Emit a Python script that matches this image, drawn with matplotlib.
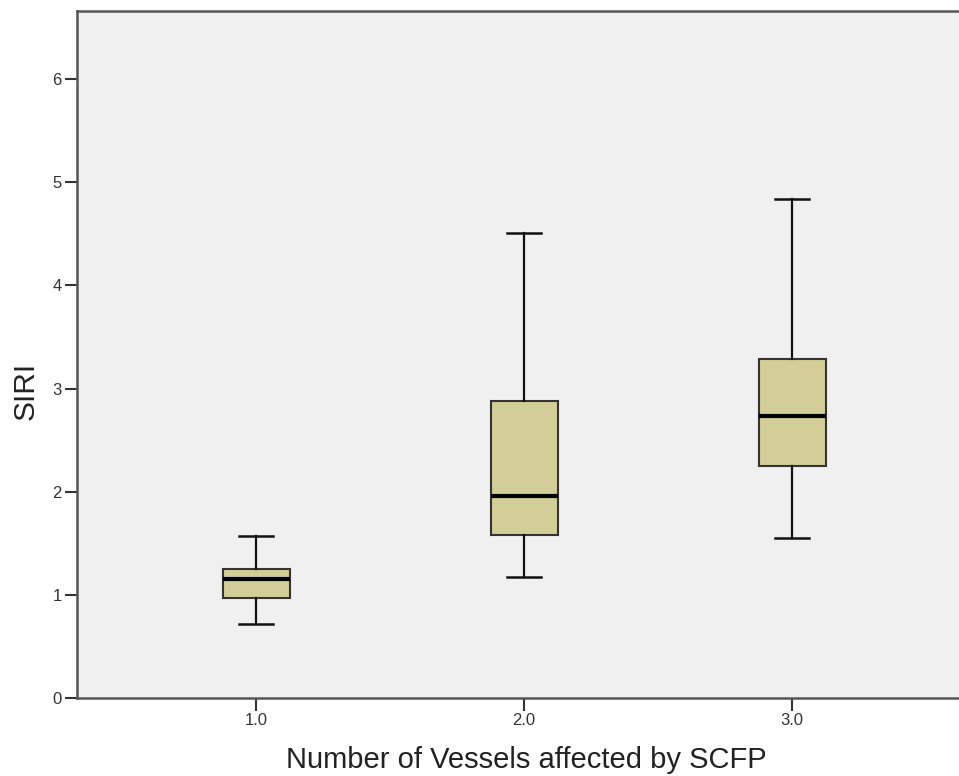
import matplotlib
matplotlib.use("Agg")
import matplotlib.pyplot as plt

plt.rcParams['font.family'] = ['Liberation Sans', 'DejaVu Sans']

categories = ["1.0", "2.0", "3.0"]
positions = [1.0, 2.0, 3.0]
whislo = [0.72, 1.17, 1.55]
q1 = [0.97, 1.58, 2.25]
med = [1.15, 1.96, 2.73]
q3 = [1.25, 2.88, 3.29]
whishi = [1.57, 4.51, 4.84]
yticks = [0, 1, 2, 3, 4, 5, 6]

stats = [dict(label=c, whislo=a, q1=b, med=m, q3=d, whishi=e, fliers=[])
         for c, a, b, m, d, e in zip(categories, whislo, q1, med, q3, whishi)]

fig = plt.figure(figsize=(9.59, 7.76), dpi=100)
ax = fig.add_axes([77/959, 1 - 698/776, 1 - 77/959, (698 - 11)/776])
ax.set_facecolor('#F0F0F0')

ax.bxp(stats, positions=positions, widths=0.25, patch_artist=True,
       showfliers=False,
       boxprops=dict(facecolor='#D3CE97', edgecolor='#333333', linewidth=1.5),
       medianprops=dict(color='black', linewidth=3),
       whiskerprops=dict(color='#111111', linewidth=1.6),
       capprops=dict(color='#111111', linewidth=1.8),
       capwidths=0.125)

ax.set_xlim(0.332, 3.623)
ax.set_ylim(0, 6.66)
ax.set_yticks(yticks)
ax.set_yticklabels([str(t) for t in yticks])
ax.set_xticks(positions)
ax.set_xticklabels(categories)

for s in ['left', 'bottom', 'top']:
    ax.spines[s].set_color('#555555')
    ax.spines[s].set_linewidth(1.8)
ax.spines['right'].set_visible(False)

ax.tick_params(axis='both', direction='out', length=9, width=1.5, color='#333333',
               labelsize=12, labelcolor='#333333', pad=2)

ax.set_ylabel('SIRI', fontsize=21.5, color='#222222')
ax.yaxis.set_label_coords((26 - 77) / 882, (698 - 391) / 687)
ax.set_xlabel('Number of Vessels affected by SCFP', fontsize=21, color='#222222')
ax.xaxis.set_label_coords((526 - 77) / 882, -(760 - 698) / 687)
ax.xaxis.label.set_va('center')
ax.yaxis.label.set_va('center')

fig.savefig('out.png', dpi=100)
